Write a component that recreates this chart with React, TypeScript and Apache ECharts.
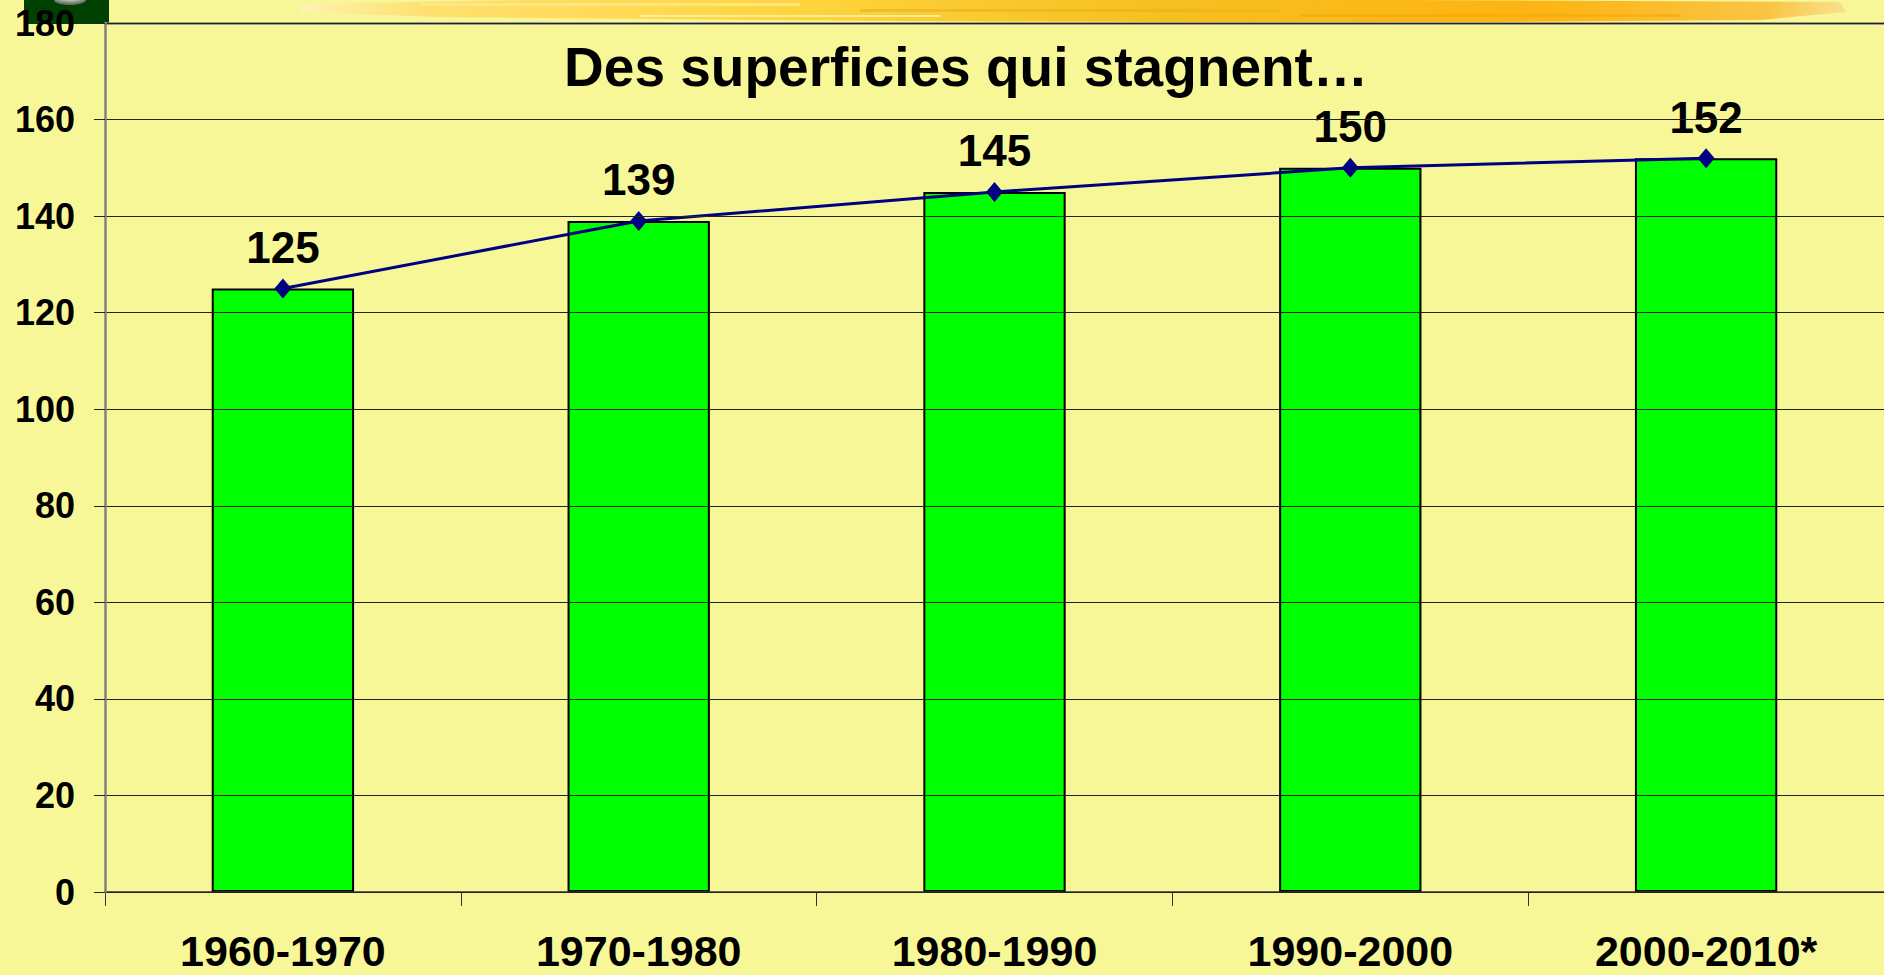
import React, { useEffect, useRef } from "react";
import * as echarts from "echarts";

const categories = ["1960-1970", "1970-1980", "1980-1990", "1990-2000", "2000-2010*"];
const barValues = [125, 139, 145, 150, 152];
const lineValues = [125, 139, 145, 150, 152];
const yMin = 0;
const yMax = 180;
const yInterval = 20;
const titleText = "Des superficies qui stagnent\u2026";

const FONT = "'Liberation Sans', Arial, sans-serif";

export default function App() {
  const ref = useRef<HTMLDivElement>(null);
  useEffect(() => {
    document.body.style.margin = "0";
    document.body.style.background = "#F7F797";
    const chart = echarts.init(ref.current!, undefined, { renderer: "svg" });
    const brushGradient = new echarts.graphic.LinearGradient(0, 0, 1, 0, [
      { offset: 0, color: "#FFF3B0" },
      { offset: 0.08, color: "#FFE070" },
      { offset: 0.3, color: "#FFD640" },
      { offset: 0.55, color: "#F6C020" },
      { offset: 0.8, color: "#FDB414" },
      { offset: 0.95, color: "#FAC445" },
      { offset: 1, color: "#F8E290" },
    ]);
    chart.setOption({
      animation: false,
      backgroundColor: "#F7F797",
      graphic: [
        {
          type: "polygon",
          z: 0,
          shape: {
            points: [
              [300, 4], [520, 0], [900, 0], [1400, 0], [1840, 2], [1846, 12],
              [1760, 20], [1500, 22], [1200, 22], [900, 21], [650, 19], [440, 17], [300, 12],
            ],
          },
          style: { fill: brushGradient, opacity: 1 },
        },
        { type: "rect", z: 0, shape: { x: 420, y: 3, width: 380, height: 3 }, style: { fill: "#FFE98C", opacity: 0.8 } },
        { type: "rect", z: 0, shape: { x: 860, y: 9, width: 420, height: 3 }, style: { fill: "#E8B020", opacity: 0.6 } },
        { type: "rect", z: 0, shape: { x: 1300, y: 14, width: 380, height: 3 }, style: { fill: "#F5A800", opacity: 0.55 } },
        { type: "rect", z: 0, shape: { x: 640, y: 15, width: 300, height: 2 }, style: { fill: "#FFF1B0", opacity: 0.8 } },
        { type: "rect", z: 0, shape: { x: 24, y: 0, width: 85, height: 24 }, style: { fill: "#004000" } },
        {
          type: "ellipse",
          z: 0,
          shape: { cx: 70, cy: 0, rx: 16, ry: 5 },
          style: {
            fill: new echarts.graphic.RadialGradient(0.5, 0.3, 0.6, [
              { offset: 0, color: "#F0F0F0" },
              { offset: 1, color: "#607060" },
            ]),
          },
        },
        {
          type: "text",
          z: 10,
          x: 966,
          y: 67,
          style: {
            text: titleText,
            fill: "#000",
            font: `bold 55px ${FONT}`,
            textAlign: "center",
            textVerticalAlign: "middle",
          },
        },
      ],
      grid: { left: 105, right: 0, top: 23, bottom: 83, containLabel: false },
      xAxis: [
        {
          type: "category",
          data: categories,
          boundaryGap: true,
          axisLine: { show: true, lineStyle: { color: "#333", width: 1.5 } },
          axisTick: { show: true, length: 14, lineStyle: { color: "#333", width: 1 } },
          axisLabel: {
            color: "#000",
            fontSize: 43,
            fontWeight: "bold",
            fontFamily: FONT,
            lineHeight: 36,
            margin: 41,
          },
          splitLine: { show: false },
          z: 4,
        },
        {
          type: "category",
          data: categories,
          position: "top",
          axisLine: { show: true, lineStyle: { color: "#808080", width: 2.5 } },
          axisTick: { show: false },
          axisLabel: { show: false },
          splitLine: { show: false },
          z: 4,
        },
      ],
      yAxis: {
        type: "value",
        min: yMin,
        max: yMax,
        interval: yInterval,
        axisLine: { show: true, lineStyle: { color: "#808080", width: 2.5 } },
        axisTick: { show: true, length: 11, lineStyle: { color: "#222", width: 1 } },
        axisLabel: {
          color: "#000",
          fontSize: 36,
          fontWeight: "bold",
          fontFamily: FONT,
          margin: 30,
        },
        splitLine: { show: true, lineStyle: { color: "#222", width: 1 } },
        z: 5,
      },
      series: [
        {
          type: "bar",
          data: barValues,
          barWidth: "40%",
          itemStyle: { color: "#00FF00", borderColor: "#000", borderWidth: 2 },
          z: 2,
        },
        {
          type: "line",
          data: lineValues,
          symbol: "diamond",
          symbolSize: [17, 20],
          itemStyle: { color: "#000080" },
          lineStyle: { color: "#000080", width: 3 },
          label: {
            show: true,
            position: "top",
            distance: 9,
            color: "#000",
            fontSize: 44,
            fontWeight: "bold",
            fontFamily: FONT,
          },
          z: 3,
        },
      ],
    });
    return () => chart.dispose();
  }, []);
  return <div ref={ref} style={{ width: 1884, height: 975 }} />;
}
